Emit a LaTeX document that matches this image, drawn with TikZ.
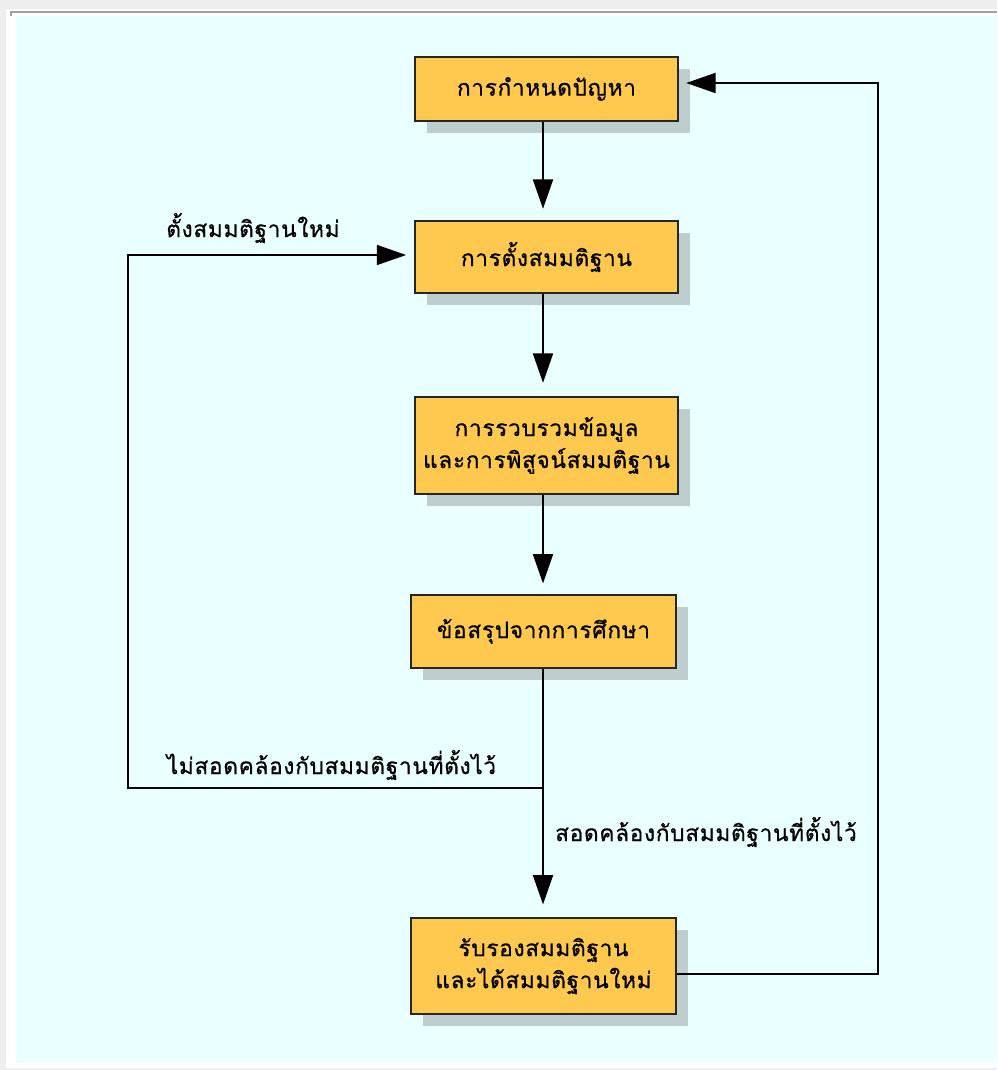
\documentclass[tikz,border=0pt]{standalone}
\usepackage{fontspec}
\newfontfamily\thai[Script=Thai,LetterSpace=3,FakeBold=0.6]{Loma}
\usetikzlibrary{arrows.meta,shadows}
\definecolor{bgcyan}{HTML}{EAFFFF}
\definecolor{boxfill}{HTML}{FFC84E}
\definecolor{shadowc}{HTML}{BECDCD}
\definecolor{outergray}{HTML}{EEEEEE}
\definecolor{framegray}{HTML}{A0A0A0}
\tikzset{
  stepbox/.style={draw=black!85, line width=1.3pt, fill=boxfill, rectangle, inner sep=0pt,
    font=\thai\fontsize{17}{24}\selectfont, align=center,
    drop shadow={shadow xshift=9pt, shadow yshift=-9pt, fill=shadowc, opacity=1}},
  lbl/.style={font=\thai\fontsize{17}{24}\selectfont, inner sep=0pt},
  conn/.style={line width=1.3pt, black},
  arr/.style={conn, -{Triangle[length=22pt,width=15pt]}},
}
\begin{document}
\begin{tikzpicture}[x=0.75pt,y=-0.75pt]
\useasboundingbox (0,0) rectangle (997,1070);
\fill[outergray] (0,0) rectangle (997,1070);
\fill[white] (6,9) rectangle (997,1068);
\fill[framegray] (10,11) rectangle (997,13.5);
\fill[framegray] (10,11) rectangle (12,16.5);
\fill[bgcyan] (16,16) rectangle (997,1063);

\node[stepbox, minimum width=197.25pt, minimum height=48pt] (b1) at (546.5,89) {การกำหนดปัญหา};
\node[stepbox, minimum width=197.25pt, minimum height=54pt] (b2) at (546.5,257) {การตั้งสมมติฐาน};
\node[stepbox, minimum width=197.25pt, minimum height=72.75pt] (b3) at (546.5,445.5) {การรวบรวมข้อมูล\\และการพิสูจน์สมมติฐาน};
\node[stepbox, minimum width=198.75pt, minimum height=54.75pt] (b4) at (543.5,631.5) {ข้อสรุปจากการศึกษา};
\node[stepbox, minimum width=198.75pt, minimum height=72pt] (b5) at (543.5,966) {รับรองสมมติฐาน\\และได้สมมติฐานใหม่};

\coordinate (X) at (543,0);
\coordinate (j) at (543,788);
\coordinate (lc) at (128,788);
\coordinate (lt) at (128,255);
\coordinate (rc) at (878,974);
\coordinate (rt) at (878,83);

\draw[arr, shorten >=8.5pt] (b1.south -| X) -- (b2.north -| X);
\draw[arr, shorten >=10pt] (b2.south -| X) -- (b3.north -| X);
\draw[arr, shorten >=8pt] (b3.south -| X) -- (b4.north -| X);
\draw[arr, shorten >=9.5pt] (b4.south -| X) -- (b5.north -| X);
\draw[arr, shorten >=6pt] (j) -- (lc) -- (lt) -- (b2.west |- lt);
\draw[arr, shorten >=5.5pt] (b5.east |- rc) -- (rc) -- (rt) -- (b1.east |- rt);

\node[lbl] (l1) at (253,228) {ตั้งสมมติฐานใหม่};
\node[lbl] (l2) at (331.5,765) {ไม่สอดคล้องกับสมมติฐานที่ตั้งไว้};
\node[lbl] (l3) at (706,832) {สอดคล้องกับสมมติฐานที่ตั้งไว้};
\end{tikzpicture}
\end{document}
